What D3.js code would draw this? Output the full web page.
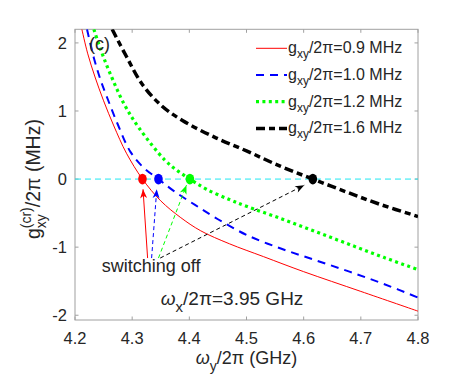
<!DOCTYPE html>
<html>
<head>
<meta charset="utf-8">
<script src="https://cdn.jsdelivr.net/npm/d3@7"></script>
<style>
  body { margin: 0; background: #fff; }
  text { font-family: "Liberation Sans", Arial, sans-serif; fill: #262626; }
</style>
</head>
<body>
<div id="chart"></div>
<script>
// curves: [omega_y/2pi (GHz), g_cr/2pi (MHz)]
const red09 = [[4.212, 2.2], [4.222, 1.85], [4.235, 1.5], [4.25, 1.15], [4.268, 0.78], [4.29, 0.38],
  [4.318, 0], [4.35, -0.32], [4.384, -0.56], [4.42, -0.76], [4.47, -0.95], [4.53, -1.14],
  [4.6, -1.36], [4.7, -1.65], [4.8, -1.94]]
const blue10 = [[4.221, 2.2], [4.233, 1.78], [4.245, 1.45], [4.257, 1.18], [4.274, 0.82], [4.297, 0.4],
  [4.321, 0.16], [4.346, 0], [4.372, -0.17], [4.41, -0.38], [4.45, -0.59], [4.5, -0.82],
  [4.56, -1.02], [4.62, -1.19], [4.68, -1.36], [4.74, -1.54], [4.8, -1.74]]
const green12 = [[4.233, 2.2], [4.245, 1.9], [4.26, 1.58], [4.286, 1.1], [4.312, 0.75], [4.357, 0.28],
  [4.378, 0.13], [4.401, 0], [4.43, -0.15], [4.47, -0.3], [4.5, -0.4], [4.56, -0.58],
  [4.62, -0.77], [4.68, -0.96], [4.74, -1.15], [4.8, -1.33]]
const black16 = [[4.265, 2.2], [4.29, 1.8], [4.317, 1.4], [4.351, 1.08], [4.388, 0.86], [4.443, 0.62],
  [4.501, 0.41], [4.559, 0.19], [4.616, 0], [4.675, -0.19], [4.733, -0.37], [4.8, -0.55]]

const seriesLabels = ['0.9', '1.0', '1.2', '1.6']
const switchOff = [4.318, 4.346, 4.401, 4.616]   // zero crossings
// arrows from the "switching off" note: [tailX, tailY, headX, headY]
const arrows = [[4.327, -1.16, 4.319, -0.15], [4.334, -1.16, 4.343, -0.15],
  [4.346, -1.16, 4.395, -0.09], [4.349, -1.16, 4.601, -0.09]]

const xTicks = [4.2, 4.3, 4.4, 4.5, 4.6, 4.7, 4.8]
const yTicks = [-2, -1, 0, 1, 2]

const W = 463, H = 379
const margin = { top: 29.3, left: 75, right: 45, bottom: 59 }
const width = W - margin.left - margin.right
const height = H - margin.top - margin.bottom

const svg = d3.select('#chart').append('svg')
  .attr('width', W).attr('height', H)

const g = svg.append('g')
  .attr('transform', `translate(${margin.left},${margin.top})`)

const x = d3.scaleLinear().domain([4.2, 4.8]).range([0, width])
const y = d3.scaleLinear().domain([-2.07, 2.2]).range([height, 0])

const styles = [
  { data: red09, color: '#ff0000', w: 1, dash: null },
  { data: blue10, color: '#0000ff', w: 2, dash: '8,6' },
  { data: green12, color: '#00ff00', w: 3.2, dash: '3,3.4' },
  { data: black16, color: '#000000', w: 3.5, dash: '9,4,6,4' }
]

g.append('clipPath').attr('id', 'clip')
  .append('rect').attr('width', width).attr('height', height)

// box + ticks
const grey = '#a0a0a0'
g.append('rect').attr('width', width).attr('height', height)
  .attr('fill', 'none').attr('stroke', grey).attr('stroke-width', 1)

xTicks.forEach(t => {
  g.append('line').attr('x1', x(t)).attr('x2', x(t)).attr('y1', height).attr('y2', height - 3.5).attr('stroke', grey)
  g.append('line').attr('x1', x(t)).attr('x2', x(t)).attr('y1', 0).attr('y2', 3.5).attr('stroke', grey)
  g.append('text').attr('x', x(t)).attr('y', height + 24)
    .attr('text-anchor', 'middle').attr('font-size', 16.5).text(t.toFixed(1))
})
yTicks.forEach(t => {
  g.append('line').attr('x1', 0).attr('x2', 3.5).attr('y1', y(t)).attr('y2', y(t)).attr('stroke', grey)
  g.append('line').attr('x1', width).attr('x2', width - 3.5).attr('y1', y(t)).attr('y2', y(t)).attr('stroke', grey)
  g.append('text').attr('x', -8).attr('y', y(t) + 6)
    .attr('text-anchor', 'end').attr('font-size', 16.5).text(t)
})

const plot = g.append('g').attr('clip-path', 'url(#clip)')

// zero line
plot.append('line')
  .attr('x1', x(4.2)).attr('x2', x(4.8)).attr('y1', y(0)).attr('y2', y(0))
  .attr('stroke', '#22e6f0').attr('stroke-width', 1).attr('stroke-dasharray', '6,4')

const line = d3.line().x(d => x(d[0])).y(d => y(d[1])).curve(d3.curveCatmullRom)

plot.selectAll('path.curve')
  .data(styles)
  .enter()
  .append('path')
  .attr('class', 'curve')
  .attr('d', d => line(d.data))
  .attr('fill', 'none')
  .attr('stroke', d => d.color)
  .attr('stroke-width', d => d.w)
  .attr('stroke-dasharray', d => d.dash)

// arrow heads
const defs = svg.append('defs')
styles.forEach((s, i) => {
  defs.append('marker')
    .attr('id', 'ah' + i)
    .attr('viewBox', '-10 -5 11 10')
    .attr('refX', 0).attr('refY', 0)
    .attr('markerWidth', 11).attr('markerHeight', 10)
    .attr('markerUnits', 'userSpaceOnUse')
    .attr('orient', 'auto')
    .append('path')
    .attr('d', 'M0,0 L-9,-3.5 L-6.5,0 L-9,3.5 Z')
    .attr('fill', s.color)
})

g.selectAll('line.arrow')
  .data(arrows)
  .enter()
  .append('line')
  .attr('class', 'arrow')
  .attr('x1', d => x(d[0])).attr('y1', d => y(d[1]))
  .attr('x2', d => x(d[2])).attr('y2', d => y(d[3]))
  .attr('stroke', (d, i) => styles[i].color)
  .attr('stroke-width', 1)
  .attr('stroke-dasharray', (d, i) => i === 0 ? null : '4,3')
  .attr('marker-end', (d, i) => `url(#ah${i})`)

// dots at the switching-off points
plot.selectAll('ellipse')
  .data(switchOff)
  .enter()
  .append('ellipse')
  .attr('cx', d => x(d)).attr('cy', y(0))
  .attr('rx', 4.3).attr('ry', 5.3)
  .attr('fill', (d, i) => styles[i].color)

// legend
const legend = g.append('g').attr('transform', `translate(${256 - margin.left},${48.3 - margin.top})`)
styles.forEach((s, i) => {
  const row = legend.append('g').attr('transform', `translate(0,${i * 26.7})`)
  row.append('line').attr('x1', 0).attr('x2', 31).attr('y1', 0).attr('y2', 0)
    .attr('stroke', s.color).attr('stroke-width', s.w).attr('stroke-dasharray', s.dash)
  const t = row.append('text').attr('x', 32).attr('y', 5).attr('font-size', 16)
  t.append('tspan').text('g')
  t.append('tspan').attr('font-size', 12).attr('dy', 5).text('xy')
  t.append('tspan').attr('dy', -5).text(`/2π=${seriesLabels[i]} MHz`)
})

// annotations
g.append('text').attr('x', x(4.2) + 14).attr('y', 21).attr('font-size', 18).text('(c)')

g.append('text').attr('x', x(4.333)).attr('y', y(-1.365))
  .attr('text-anchor', 'middle').attr('font-size', 18).text('switching off')

const wx = g.append('text').attr('x', x(4.35)).attr('y', y(-1.85)).attr('font-size', 19)
wx.append('tspan').attr('font-style', 'italic').text('ω')
wx.append('tspan').attr('font-size', 15).attr('dy', 7).text('x')
wx.append('tspan').attr('dy', -7).text('/2π=3.95 GHz')

// x title
const xt = svg.append('text').attr('x', 196).attr('y', 364).attr('font-size', 18)
xt.append('tspan').attr('font-style', 'italic').text('ω')
xt.append('tspan').attr('font-size', 14).attr('dy', 7).text('y')
xt.append('tspan').attr('dy', -7).text('/2π (GHz)')
const xw = xt.node().getBBox().width
xt.attr('x', margin.left + width / 2 - xw / 2)

// y title with stacked super/subscript
const yt = svg.append('text').attr('font-size', 19.5)
yt.append('tspan').text('g')
const sup = yt.append('tspan').attr('font-size', 14).attr('dy', -9).text('(cr)')
const supW = sup.node().getComputedTextLength()
const sub = yt.append('tspan').attr('font-size', 14).attr('dx', -supW).attr('dy', 15).text('xy')
const subW = sub.node().getComputedTextLength()
yt.append('tspan').attr('dx', supW - subW).attr('dy', -6).text('/2π (MHz)')
const yw = yt.node().getBBox().width
yt.attr('transform', `translate(40,${margin.top + y(0) + yw / 2}) rotate(-90)`)
</script>
</body>
</html>
